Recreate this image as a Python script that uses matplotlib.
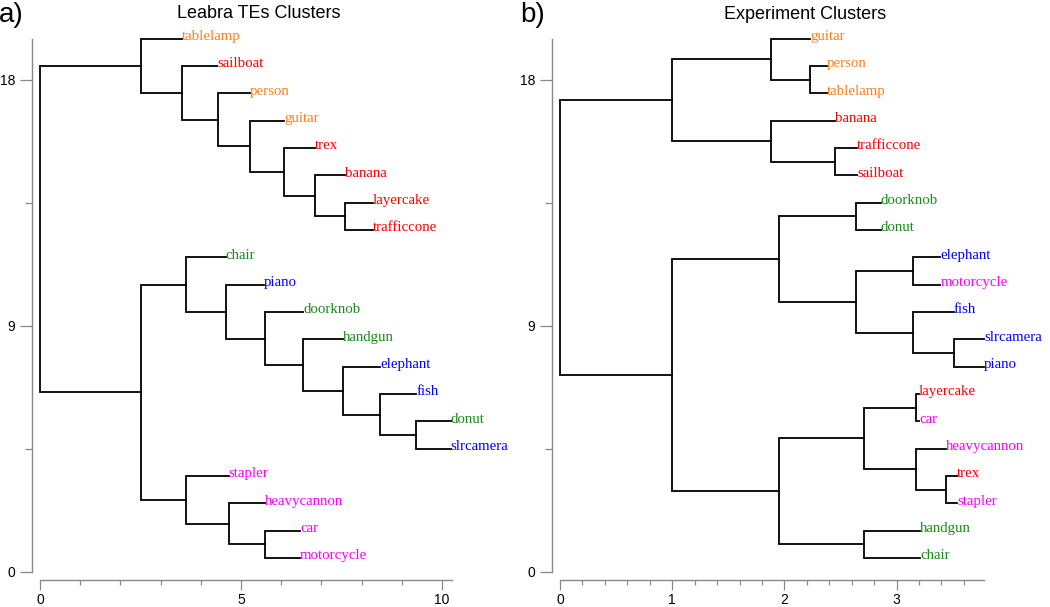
import numpy as np
import matplotlib
matplotlib.use('Agg')
import matplotlib.pyplot as plt

plt.rcParams['font.family'] = ['Liberation Sans', 'DejaVu Sans']

# ## Data: leaves top to bottom, where each leaf line ends, and the merges
# merges: (child, child, height); children 0..19 are leaves, 20+ are earlier merges

leaves_a = ['tablelamp', 'sailboat', 'person', 'guitar', 'trex', 'banana', 'layercake',
            'trafficcone', 'chair', 'piano', 'doorknob', 'handgun', 'elephant', 'fish',
            'donut', 'slrcamera', 'stapler', 'heavycannon', 'car', 'motorcycle']
leaf_end_a = [3.53, 4.41, 5.22, 6.07, 6.84, 7.58, 8.28, 8.28, 4.62, 5.56,
              6.55, 7.53, 8.47, 9.36, 10.22, 10.22, 4.69, 5.59, 6.47, 6.47]
merges_a = [(6, 7, 7.59), (5, 20, 6.85), (4, 21, 6.06), (3, 22, 5.22), (2, 23, 4.42),
            (1, 24, 3.53), (0, 25, 2.51), (14, 15, 9.36), (13, 27, 8.47), (12, 28, 7.53),
            (11, 29, 6.55), (10, 30, 5.59), (9, 31, 4.63), (8, 32, 3.62), (18, 19, 5.59),
            (17, 34, 4.69), (16, 35, 3.62), (33, 36, 2.51), (26, 37, 0.0)]

leaves_b = ['guitar', 'person', 'tablelamp', 'banana', 'trafficcone', 'sailboat', 'doorknob',
            'donut', 'elephant', 'motorcycle', 'fish', 'slrcamera', 'piano', 'layercake',
            'car', 'heavycannon', 'trex', 'stapler', 'handgun', 'chair']
leaf_end_b = [2.23, 2.38, 2.38, 2.45, 2.65, 2.65, 2.86, 2.86, 3.39, 3.39,
              3.51, 3.78, 3.78, 3.20, 3.20, 3.44, 3.54, 3.54, 3.21, 3.21]
merges_b = [(1, 2, 2.23), (0, 20, 1.88), (4, 5, 2.45), (3, 22, 1.88), (21, 23, 1.0),
            (6, 7, 2.64), (8, 9, 3.15), (11, 12, 3.51), (10, 27, 3.15), (26, 28, 2.64),
            (25, 29, 1.955), (13, 14, 3.17), (16, 17, 3.44), (15, 32, 3.17), (31, 33, 2.71),
            (18, 19, 2.71), (34, 35, 1.955), (30, 36, 1.0), (24, 37, 0.0)]

# axis ticks
yticks_major = [0, 9, 18]
yticks_minor = [4.5, 13.5]
xticks_major_a = [0, 5, 10]
xticks_minor_a = [1, 2, 3, 4, 6, 7, 8, 9]
xticks_major_b = [0, 1, 2, 3]
xticks_minor_b = [0.2, 0.4, 0.6, 0.8, 1.2, 1.4, 1.6, 1.8, 2.2, 2.4, 2.6, 2.8, 3.2, 3.4, 3.6]

groups = {
    '#FF8020': ['tablelamp', 'person', 'guitar'],
    '#FF0000': ['sailboat', 'trex', 'banana', 'layercake', 'trafficcone'],
    '#1A8C1A': ['chair', 'doorknob', 'handgun', 'donut'],
    '#0000FF': ['piano', 'elephant', 'fish', 'slrcamera'],
    '#FF00FF': ['stapler', 'heavycannon', 'car', 'motorcycle'],
}
leaf_color = {name: c for c, names in groups.items() for name in names}

W, H = 1050, 607
fig = plt.figure(figsize=(W / 100, H / 100), dpi=100)


def draw_tree(ax, leaves, leaf_end, merges):
    n = len(leaves)
    xs = list(leaf_end)
    ys = [n - 0.5 - i for i in range(n)]
    for a, b, h in merges:
        ax.plot([xs[a], h, h, xs[b]], [ys[a], ys[a], ys[b], ys[b]],
                color='black', lw=1.3, solid_joinstyle='miter', clip_on=False)
        xs.append(h)
        ys.append((ys[a] + ys[b]) / 2)
    for i, name in enumerate(leaves):
        ax.text(leaf_end[i], ys[i] - 0.05, name, color=leaf_color[name],
                family='Liberation Serif', fontsize=10.7, ha='left', va='baseline',
                clip_on=False)


def style_axes(ax, xmax, xmajor, xminor):
    for s in ['top', 'right']:
        ax.spines[s].set_visible(False)
    for s in ['left', 'bottom']:
        ax.spines[s].set_position(('outward', 6))
        ax.spines[s].set_color('#888888')
        ax.spines[s].set_linewidth(1.0)
    ax.spines['left'].set_bounds(0, 19.5)
    ax.spines['bottom'].set_bounds(0, xmax)
    ax.set_ylim(0, 19.5)
    ax.set_yticks(yticks_major)
    ax.set_yticks(yticks_minor, minor=True)
    ax.set_xticks(xmajor)
    ax.set_xticks(xminor, minor=True)
    ax.tick_params(axis='y', which='major', length=8.3, width=0.9, color='#888888',
                   labelsize=10, pad=3.5)
    ax.tick_params(axis='y', which='minor', length=4.8, width=0.9, color='#888888')
    ax.tick_params(axis='x', which='major', length=7, width=0.9, color='#888888',
                   labelsize=10, pad=2.5)
    ax.tick_params(axis='x', which='minor', length=3.6, width=0.9, color='#888888')
    ax.patch.set_visible(False)


ppu_y = 27.33
bottom_px = 571.7
ax_h = 19.5 * ppu_y

ax1 = fig.add_axes([40 / W, (H - bottom_px) / H, 10.5 * 40.2 / W, ax_h / H])
ax1.set_xlim(0, 10.5)
style_axes(ax1, 10.25, xticks_major_a, xticks_minor_a)
draw_tree(ax1, leaves_a, leaf_end_a, merges_a)

ax2 = fig.add_axes([560 / W, (H - bottom_px) / H, 4.0 * 112.2 / W, ax_h / H])
ax2.set_xlim(0, 4.0)
style_axes(ax2, 3.78, xticks_major_b, xticks_minor_b)
draw_tree(ax2, leaves_b, leaf_end_b, merges_b)

fig.text(259 / W, 1 - 18 / H, 'Leabra TEs Clusters', fontsize=13, ha='center', va='baseline')
fig.text(805 / W, 1 - 19 / H, 'Experiment Clusters', fontsize=13, ha='center', va='baseline')
fig.text(-1 / W, 1 - 22 / H, 'a)', fontsize=20, ha='left', va='baseline')
fig.text(520 / W, 1 - 22 / H, 'b)', fontsize=20, ha='left', va='baseline')

fig.savefig('out.png', dpi=100)
